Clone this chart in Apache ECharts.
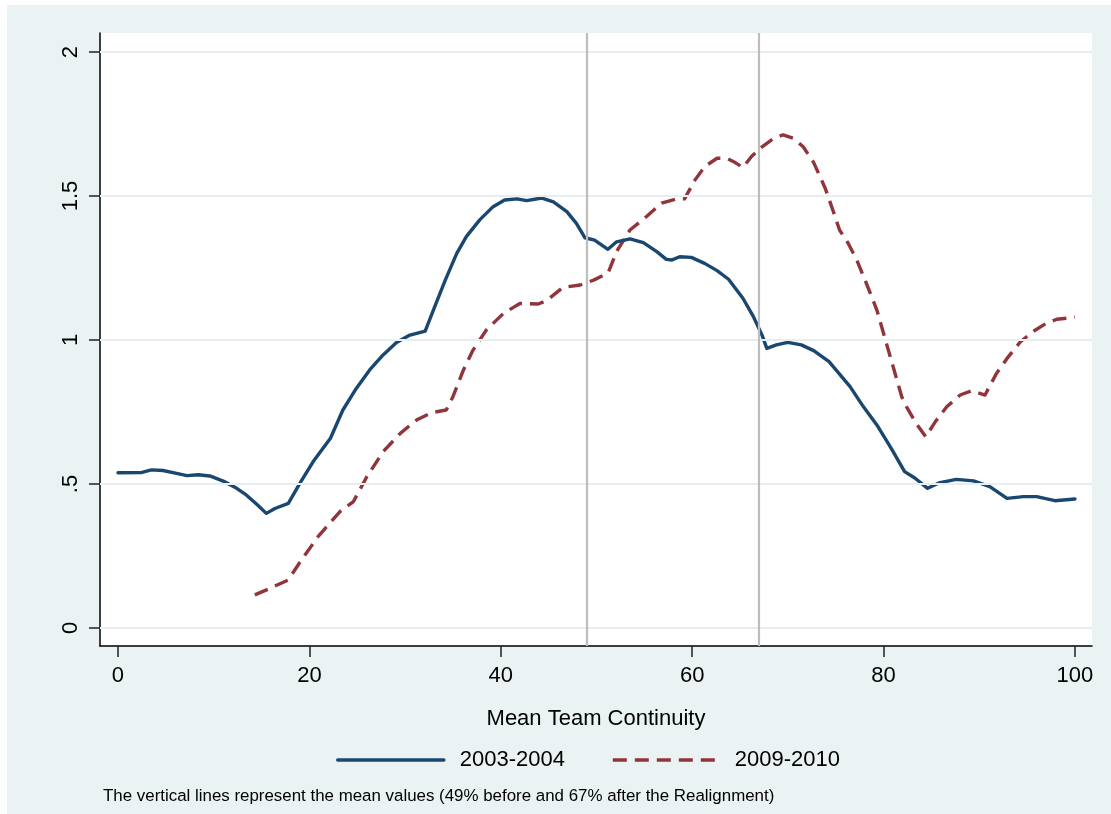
<!DOCTYPE html>
<html>
<head>
<meta charset="utf-8">
<script src="https://cdn.jsdelivr.net/npm/echarts@6/dist/echarts.min.js"></script>
<style>
  html, body { margin: 0; padding: 0; background: #ffffff; width: 1111px; height: 814px; overflow: hidden; }
  #chart { position: absolute; left: 7px; top: 5px; width: 1104px; height: 809px; background: #eaf2f3; }
</style>
</head>
<body>
<div id="chart"></div>
<script>
// Axis ticks and labels
const xTicks = [0, 20, 40, 60, 80, 100];
const yTicks = [0, 0.5, 1, 1.5, 2];
const yTickLabels = ['0', '.5', '1', '1.5', '2'];

// Series names and the two mean-continuity reference values (%)
const seriesNames = ['2003-2004', '2009-2010'];
const meanLines = [49, 67];

// Smoothed density of mean team continuity, [continuity, density]
const continuity2003 = [
  [0, 0.539], [2.5, 0.54], [3.5, 0.549], [4.7, 0.547], [6.0, 0.538], [7.2, 0.529],
  [8.4, 0.532], [9.6, 0.528], [11.0, 0.51], [12.4, 0.485], [13.4, 0.462], [14.5, 0.43],
  [15.5, 0.398], [16.4, 0.415], [17.8, 0.433], [19.0, 0.502], [20.4, 0.578], [22.2, 0.659],
  [23.5, 0.757], [24.9, 0.832], [26.3, 0.896], [27.7, 0.948], [29.1, 0.991], [30.5, 1.017],
  [32.1, 1.031], [33.1, 1.116], [34.2, 1.208], [35.4, 1.301], [36.4, 1.359], [37.8, 1.417],
  [39.2, 1.463], [40.4, 1.486], [41.7, 1.49], [42.7, 1.484], [44.3, 1.493], [45.5, 1.48],
  [46.9, 1.446], [47.9, 1.405], [48.8, 1.355], [49.8, 1.347], [51.2, 1.315], [52.1, 1.341],
  [53.5, 1.351], [54.9, 1.338], [56.3, 1.307], [57.3, 1.28], [57.9, 1.278], [58.7, 1.289],
  [59.9, 1.287], [61.3, 1.266], [62.6, 1.241], [63.8, 1.211], [65.3, 1.145], [66.4, 1.081],
  [67.3, 1.017], [67.8, 0.971], [68.8, 0.983], [70.0, 0.992], [71.4, 0.983], [72.7, 0.963],
  [74.3, 0.925], [76.5, 0.838], [77.9, 0.768], [79.3, 0.705], [80.8, 0.624], [82.2, 0.543],
  [83.3, 0.52], [84.6, 0.485], [85.9, 0.505], [87.6, 0.516], [89.4, 0.511], [91.1, 0.491],
  [92.9, 0.45], [94.6, 0.456], [96.0, 0.456], [97.9, 0.442], [100, 0.448]
];

const continuity2009 = [
  [14.3, 0.115], [15.9, 0.138], [17.8, 0.167], [19.0, 0.228], [20.9, 0.317], [21.5, 0.34],
  [23.2, 0.404], [24.6, 0.439], [26.0, 0.525], [27.7, 0.612], [29.5, 0.676], [31.2, 0.722],
  [32.8, 0.748], [34.3, 0.757], [35.0, 0.803], [36.1, 0.896], [37.1, 0.965], [38.5, 1.035],
  [40.3, 1.093], [42.0, 1.127], [43.9, 1.125], [44.8, 1.137], [46.5, 1.183], [48.3, 1.191],
  [49.7, 1.208], [51.2, 1.232], [52.1, 1.307], [53.5, 1.382], [55.2, 1.428], [56.8, 1.475],
  [58.4, 1.49], [59.2, 1.49], [60.3, 1.556], [61.3, 1.602], [62.6, 1.631], [63.6, 1.631],
  [64.5, 1.616], [65.3, 1.599], [66.2, 1.637], [67.3, 1.671], [68.5, 1.7], [69.5, 1.712],
  [70.6, 1.7], [71.6, 1.671], [72.7, 1.616], [73.9, 1.527], [74.7, 1.451], [75.4, 1.382],
  [76.3, 1.336], [77.2, 1.278], [78.2, 1.197], [79.3, 1.104], [80.1, 1.011], [81.0, 0.907],
  [81.9, 0.803], [82.4, 0.768], [83.4, 0.711], [84.4, 0.664], [85.4, 0.716], [86.6, 0.768],
  [88.0, 0.809], [89.2, 0.824], [90.6, 0.809], [91.8, 0.884], [92.9, 0.936], [94.3, 0.994],
  [95.6, 1.029], [97.0, 1.058], [98.1, 1.072], [99.5, 1.077], [100, 1.08]
];

const xTitle = 'Mean Team Continuity';
const noteText = 'The vertical lines represent the mean values (49% before and 67% after the Realignment)';

const FONT = "'Liberation Sans', Arial, Helvetica, sans-serif";
const NAVY = '#1a476f';
const MAROON = '#90353b';
const DASH = [14, 8];

function yLabel(v) {
  for (let i = 0; i < yTicks.length; i++) {
    if (Math.abs(yTicks[i] - v) < 1e-9) return yTickLabels[i];
  }
  return '';
}

const chart = echarts.init(document.getElementById('chart'), null, { renderer: 'canvas' });

chart.setOption({
  animation: false,
  backgroundColor: 'transparent',
  textStyle: { fontFamily: FONT },
  title: {
    text: noteText,
    left: 96,
    top: 783,
    padding: 0,
    textStyle: { fontSize: 16.9, fontWeight: 'normal', color: '#000', fontFamily: FONT }
  },
  legend: {
    data: [
      { name: seriesNames[0], lineStyle: { width: 3.6, color: NAVY, type: 'solid' } },
      { name: seriesNames[1], lineStyle: { width: 3.6, color: MAROON, type: DASH } }
    ],
    left: 329,
    top: 744,
    padding: 0,
    itemWidth: 106,
    itemHeight: 14,
    itemGap: 46,
    itemStyle: { opacity: 0 },
    lineStyle: { width: 3.6 },
    textStyle: { fontSize: 22, color: '#000', fontFamily: FONT, padding: [0, 0, 0, 11] }
  },
  grid: {
    left: 93,
    top: 28,
    right: 19,
    bottom: 168,
    show: true,
    backgroundColor: '#ffffff',
    borderWidth: 0,
    containLabel: false
  },
  xAxis: {
    type: 'value',
    min: -1.88,
    max: 101.78,
    name: xTitle,
    nameLocation: 'middle',
    nameGap: 62,
    nameTextStyle: { fontSize: 22, color: '#000', fontFamily: FONT },
    axisLine: { show: true, onZero: false, lineStyle: { color: '#000', width: 1.5 } },
    axisTick: { show: true, length: 11, customValues: xTicks, lineStyle: { color: '#222', width: 1.5 } },
    axisLabel: { show: true, customValues: xTicks, fontSize: 22, color: '#000', margin: 19, fontFamily: FONT },
    splitLine: { show: false }
  },
  yAxis: {
    type: 'value',
    min: -0.0625,
    max: 2.066,
    axisLine: { show: true, onZero: false, lineStyle: { color: '#000', width: 1.5 } },
    axisTick: { show: true, length: 11, customValues: yTicks, lineStyle: { color: '#222', width: 1.5 } },
    axisLabel: {
      show: true, customValues: yTicks, rotate: 90, fontSize: 22, color: '#000',
      margin: 18, fontFamily: FONT, formatter: yLabel
    },
    splitLine: { show: false }
  },
  series: [
    {
      // horizontal grid lines at the y ticks
      name: 'grid',
      type: 'line',
      data: [],
      z: 1,
      silent: true,
      markLine: {
        silent: true,
        symbol: ['none', 'none'],
        label: { show: false },
        lineStyle: { color: '#e6eef0', width: 2, type: 'solid' },
        data: yTicks.map(v => ({ yAxis: v }))
      }
    },
    {
      // vertical lines at the mean continuity values
      name: 'means',
      type: 'line',
      data: [],
      z: 2,
      silent: true,
      markLine: {
        silent: true,
        symbol: ['none', 'none'],
        label: { show: false },
        lineStyle: { color: '#bdbdbd', width: 2.2, type: 'solid' },
        data: meanLines.map(v => ({ xAxis: v }))
      }
    },
    {
      name: seriesNames[0],
      type: 'line',
      data: continuity2003,
      z: 4,
      symbol: 'none',
      showSymbol: false,
      smooth: false,
      lineStyle: { color: NAVY, width: 3.4, join: 'round', cap: 'round' },
      itemStyle: { color: NAVY }
    },
    {
      name: seriesNames[1],
      type: 'line',
      data: continuity2009,
      z: 3,
      symbol: 'none',
      showSymbol: false,
      smooth: false,
      lineStyle: { color: MAROON, width: 3.4, type: DASH, join: 'round' },
      itemStyle: { color: MAROON }
    }
  ]
});
</script>
</body>
</html>
